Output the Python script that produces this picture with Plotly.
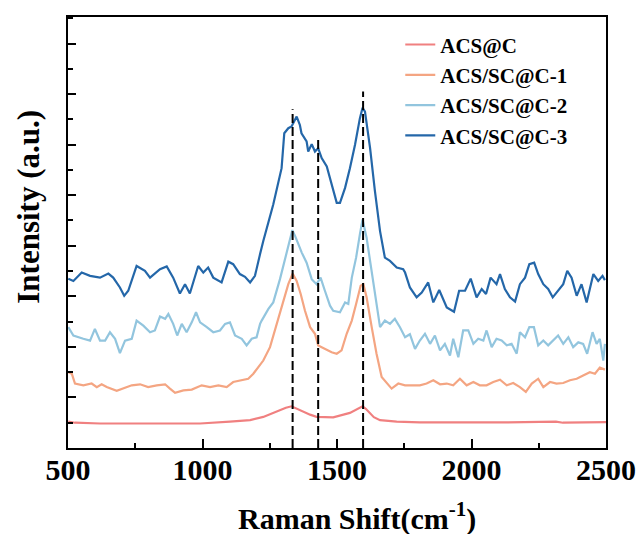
import plotly.graph_objects as go

# ---- data (Raman shift in cm-1, intensity in a.u., offset stacked) ----
acs_c_x = [501, 526, 619, 805, 991, 1102, 1177, 1226, 1251, 1288, 1310, 1331, 1351, 1375, 1400,
           1424, 1486, 1548, 1575, 1595, 1607, 1623, 1637, 1660, 1722, 1808, 2106, 2314, 2340, 2500]
acs_c_y = [104, 100, 97, 97, 97, 104, 110, 123, 134, 150, 159, 165, 155, 143, 132,
           123, 121, 139, 155, 165, 155, 137, 122, 110, 104, 101, 101, 104, 100, 102]

sc1_x = [501, 514, 526, 557, 588, 607, 625, 644, 681, 706, 737, 768, 798, 830, 861, 879, 898, 929,
         960, 997, 1028, 1059, 1090, 1114, 1146, 1170, 1189, 1211, 1226, 1251, 1276, 1300, 1319,
         1335, 1350, 1365, 1381, 1400, 1418, 1430, 1455, 1480, 1499, 1517, 1536, 1555, 1571, 1588,
         1598, 1610, 1629, 1647, 1666, 1685, 1703, 1728, 1753, 1783, 1808, 1833, 1858, 1883, 1908,
         1932, 1957, 1982, 2007, 2031, 2056, 2081, 2106, 2131, 2155, 2180, 2202, 2224, 2248, 2267,
         2292, 2316, 2341, 2366, 2391, 2415, 2440, 2459, 2477, 2496]
sc1_y = [300, 294, 255, 248, 255, 241, 252, 241, 226, 235, 248, 252, 241, 248, 252, 235, 218, 228,
         231, 248, 241, 248, 241, 261, 268, 274, 294, 327, 346, 399, 491, 576, 648,
         690, 661, 609, 543, 478, 452, 406, 392, 379, 373, 386, 452, 504, 570, 642,
         648, 596, 478, 373, 281, 255, 235, 255, 248, 248, 248, 255, 268, 252, 255,
         248, 274, 248, 261, 248, 248, 261, 270, 248, 257, 241, 222, 255, 274, 241,
         261, 255, 257, 268, 274, 287, 300, 294, 318, 310]

sc2_x = [501, 520, 557, 582, 600, 619, 638, 656, 675, 693, 712, 737, 755, 780, 805, 823, 842, 861,
         873, 891, 906, 923, 941, 960, 976, 991, 1016, 1040, 1065, 1084, 1102, 1121, 1146, 1164,
         1183, 1201, 1214, 1220, 1245, 1263, 1288, 1307, 1323, 1334, 1344, 1356, 1369, 1387, 1406,
         1424, 1439, 1455, 1474, 1486, 1511, 1530, 1542, 1555, 1571, 1585, 1595, 1610, 1629, 1647,
         1660, 1678, 1697, 1715, 1734, 1753, 1771, 1790, 1808, 1827, 1846, 1864, 1883, 1901, 1920,
         1932, 1951, 1969, 1988, 2007, 2025, 2044, 2056, 2075, 2093, 2112, 2131, 2149, 2168, 2180,
         2199, 2215, 2232, 2248, 2267, 2285, 2304, 2322, 2341, 2360, 2378, 2397, 2415, 2430, 2450,
         2465, 2477, 2490, 2496]
sc2_y = [478, 445, 432, 425, 471, 425, 425, 458, 432, 375, 425, 432, 504, 484, 458, 465, 520, 511,
         530, 491, 445, 491, 458, 497, 537, 497, 478, 458, 465, 491, 497, 445, 432, 406,
         432, 438, 491, 504, 550, 576, 668, 753, 812, 862, 839, 806, 773, 733, 668,
         648, 674, 622, 563, 543, 537, 576, 570, 674, 753, 845, 904, 832, 701, 570,
         478, 504, 491, 511, 478, 438, 450, 392, 425, 452, 412, 445, 386, 412, 366,
         432, 359, 465, 465, 412, 432, 425, 465, 399, 432, 425, 406, 412, 373, 458,
         438, 478, 478, 406, 425, 406, 425, 445, 412, 438, 399, 418, 412, 373, 458,
         412, 432, 346, 412]

sc3_x = [501, 520, 551, 582, 619, 650, 668, 693, 709, 724, 755, 786, 805, 842, 867, 891, 916, 935,
         953, 984, 1003, 1021, 1040, 1071, 1096, 1114, 1139, 1158, 1177, 1195, 1214, 1226, 1263,
         1294, 1304, 1319, 1331, 1350, 1362, 1368, 1387, 1393, 1406, 1418, 1430, 1443, 1462, 1474,
         1486, 1499, 1511, 1530, 1548, 1567, 1585, 1595, 1604, 1623, 1641, 1660, 1678, 1697, 1722,
         1746, 1753, 1771, 1796, 1815, 1839, 1858, 1880, 1908, 1935, 1954, 1976, 1997, 2019, 2038,
         2054, 2071, 2093, 2106, 2124, 2143, 2162, 2180, 2199, 2215, 2233, 2248, 2267, 2285, 2302,
         2322, 2341, 2356, 2372, 2391, 2409, 2428, 2453, 2471, 2487, 2496]
sc3_y = [670, 661, 694, 681, 674, 690, 674, 635, 602, 622, 720, 701, 674, 707, 718, 674, 611, 648,
         611, 720, 694, 714, 674, 655, 737, 727, 688, 677, 655, 681, 767, 819, 963,
         1107, 1245, 1265, 1272, 1311, 1278, 1245, 1213, 1173, 1202, 1173, 1186, 1147, 1114, 1068,
         1016, 970, 970, 1029, 1107, 1200, 1304, 1346, 1331, 1186, 1016, 858, 753, 740, 714,
         707, 694, 635, 596, 615, 655, 576, 625, 556, 539, 622, 622, 670, 596, 629,
         609, 674, 648, 688, 629, 596, 579, 648, 674, 727, 733, 688, 648, 629, 596,
         622, 648, 701, 674, 602, 648, 576, 688, 661, 681, 664]

series_names = ["ACS@C", "ACS/SC@C-1", "ACS/SC@C-2", "ACS/SC@C-3"]
series_colors = ["#F08080", "#F4A582", "#92C5DE", "#2467A9"]

# reference positions (D, shoulder, G bands) and the top of each dashed marker
band_x = [1335, 1430, 1597]
band_top = [1340, 1225, 1410]

x_ticks = [500, 1000, 1500, 2000, 2500]

FONT = "Liberation Serif, Times New Roman, serif"

fig = go.Figure()
for name, color, xs, ys in zip(series_names, series_colors,
                               [acs_c_x, sc1_x, sc2_x, sc3_x],
                               [acs_c_y, sc1_y, sc2_y, sc3_y]):
    fig.add_trace(go.Scatter(x=xs, y=ys, mode="lines", name=name,
                             line=dict(color=color, width=2.2)))

for bx, bt in zip(band_x, band_top):
    fig.add_trace(go.Scatter(x=[bx, bx], y=[0, bt], mode="lines", showlegend=False,
                             hoverinfo="skip",
                             line=dict(color="black", width=2, dash="9px,4px")))

# the page body has an 8px default margin, so the figure is 8px smaller than the window
fig.update_layout(
    width=636, height=526,
    margin=dict(l=60, r=38, t=7, b=86),
    plot_bgcolor="white", paper_bgcolor="white",
    font=dict(family=FONT, color="black"),
    showlegend=True,
    legend=dict(x=0.6176, y=0.983, xanchor="left", yanchor="top",
                bgcolor="rgba(0,0,0,0)", borderwidth=0,
                font=dict(family=FONT, size=21, weight="bold", color="black"),
                tracegroupgap=0),
)

fig.update_xaxes(
    range=[500, 2500], tickvals=x_ticks, ticktext=[str(v) for v in x_ticks],
    ticks="inside", ticklen=9, tickwidth=2, tickcolor="black",
    minor=dict(dtick=250, ticks="inside", ticklen=5, tickwidth=2, tickcolor="black"),
    showline=True, linewidth=2, linecolor="black", mirror=True,
    showgrid=False, zeroline=False, ticklabelstandoff=-6,
    tickfont=dict(family=FONT, size=30, weight="bold", color="black"),
)
fig.update_yaxes(
    range=[0, 1705], dtick=200, tick0=0,
    ticks="inside", ticklen=8, tickwidth=2, tickcolor="black",
    minor=dict(dtick=100, ticks="inside", ticklen=5, tickwidth=2, tickcolor="black"),
    showticklabels=False,
    showline=True, linewidth=2, linecolor="black", mirror=True,
    showgrid=False, zeroline=False,
)

fig.add_annotation(text="Raman Shift(cm<sup>-1</sup>)", xref="paper", yref="paper",
                   x=0.537, y=-0.159, showarrow=False, xanchor="center", yanchor="middle",
                   font=dict(family=FONT, size=30, weight="bold", color="black"))
fig.add_annotation(text="Intensity (a.u.)", xref="paper", yref="paper",
                   x=-0.075, y=0.559, showarrow=False, textangle=-90,
                   xanchor="center", yanchor="middle",
                   font=dict(family=FONT, size=31, weight="bold", color="black"))

fig.write_html("out.html")
